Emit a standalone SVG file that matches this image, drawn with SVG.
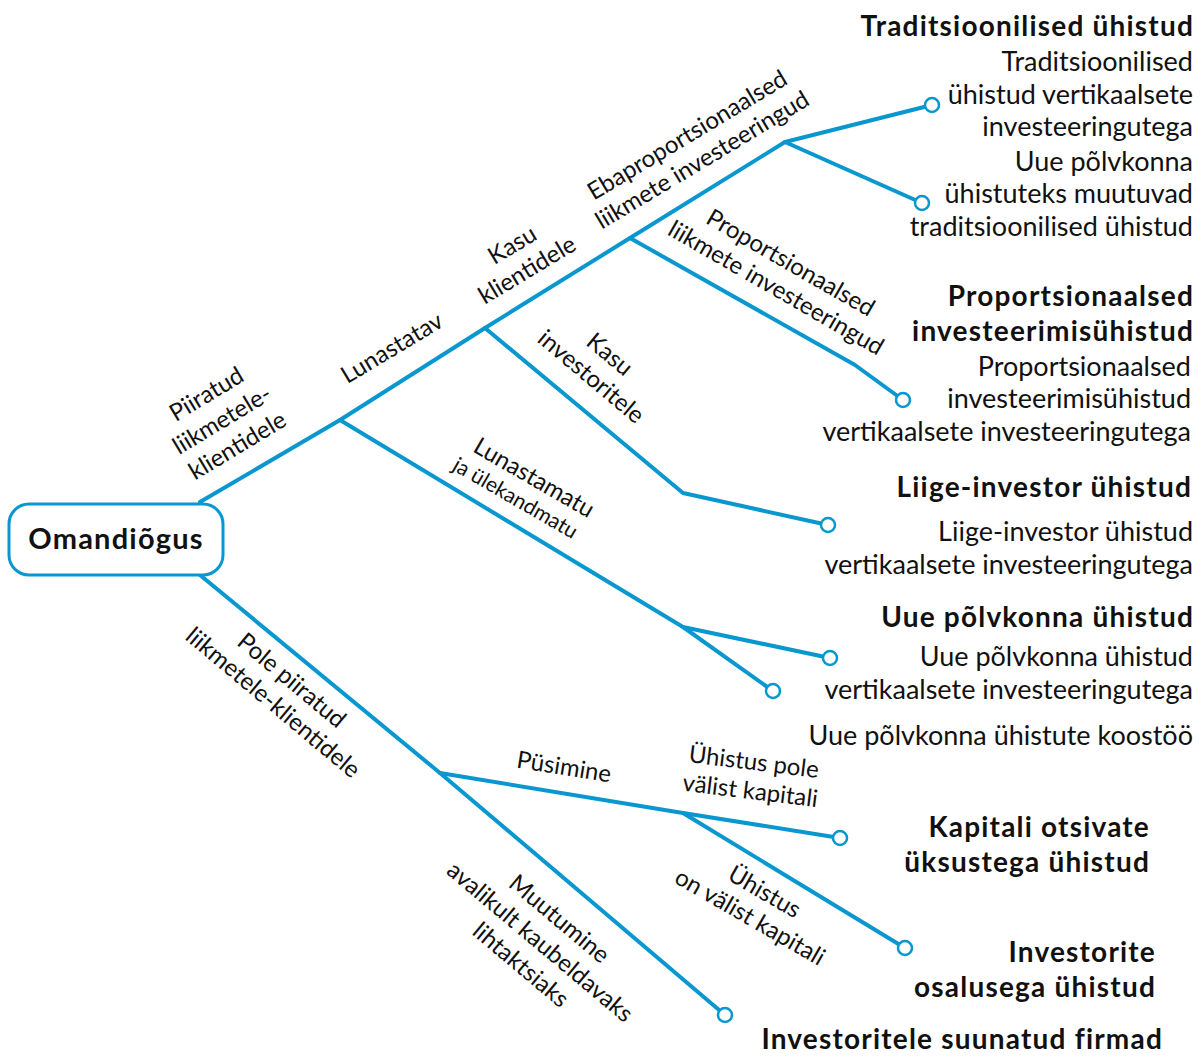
<svg xmlns="http://www.w3.org/2000/svg" width="1200" height="1057" viewBox="0 0 1200 1057">
<style>
.ln{fill:none;stroke:#0897CE;stroke-width:4;stroke-linejoin:round;stroke-linecap:round}
.end{fill:#fff;stroke:#0897CE;stroke-width:2.5}
.lb{font-family:Lato,"Liberation Sans",sans-serif;font-size:24px;fill:#111;text-anchor:middle}
.sm{font-size:21px}
.h{font-family:Lato,"Liberation Sans",sans-serif;font-size:28px;font-weight:bold;letter-spacing:1.2px;fill:#111;text-anchor:end}
.t{font-family:Lato,"Liberation Sans",sans-serif;font-size:27px;fill:#111;text-anchor:end}
</style>
<rect width="1200" height="1057" fill="#fff"/>
<g id="connectors">
<polyline class="ln" points="200,502 340,420 485,328 630,238 785,142 932,105"/>
<polyline class="ln" points="785,142 922,203"/>
<polyline class="ln" points="630,238 855,365 903,400"/>
<polyline class="ln" points="485,328 683,493 828,525"/>
<polyline class="ln" points="340,420 683,627 830,658"/>
<polyline class="ln" points="683,627 773,691"/>
<polyline class="ln" points="200,575 440,773 725,1015"/>
<polyline class="ln" points="440,773 683,813 840,838"/>
<polyline class="ln" points="683,813 905,948"/>
<circle class="end" cx="932" cy="105" r="7"/>
<circle class="end" cx="922" cy="203" r="7"/>
<circle class="end" cx="903" cy="400" r="7"/>
<circle class="end" cx="828" cy="525" r="7"/>
<circle class="end" cx="830" cy="658" r="7"/>
<circle class="end" cx="773" cy="691" r="7"/>
<circle class="end" cx="840" cy="838" r="7"/>
<circle class="end" cx="905" cy="948" r="7"/>
<circle class="end" cx="725" cy="1015" r="7"/>
</g>
<g id="edge-labels">
<text class="lb" transform="translate(222,420) rotate(-31)"><tspan x="0" y="-22">Piiratud</tspan><tspan x="0" y="8">liikmetele-</tspan><tspan x="0" y="38">klientidele</tspan></text>
<text class="lb" transform="translate(392,348) rotate(-31)"><tspan x="0" y="8">Lunastatav</tspan></text>
<text class="lb" transform="translate(520,258) rotate(-31)"><tspan x="0" y="-7">Kasu</tspan><tspan x="0" y="22">klientidele</tspan></text>
<text class="lb" transform="translate(695,148) rotate(-31)"><tspan x="0" y="-7">Ebaproportsionaalsed</tspan><tspan x="0" y="22">liikmete investeeringud</tspan></text>
<text class="lb" transform="translate(783,276) rotate(30)"><tspan x="0" y="-7">Proportsionaalsed</tspan><tspan x="0" y="22">liikmete investeeringud</tspan></text>
<text class="lb" transform="translate(600,366) rotate(40)"><tspan x="0" y="-7">Kasu</tspan><tspan x="0" y="22">investoritele</tspan></text>
<text class="lb" transform="translate(527,490) rotate(30)"><tspan x="0" y="-6">Lunastamatu</tspan><tspan class="sm" x="-6" y="20">ja ülekandmatu</tspan></text>
<text class="lb" transform="translate(282,692) rotate(40)"><tspan x="0" y="-7">Pole piiratud</tspan><tspan x="0" y="22">liikmetele-klientidele</tspan></text>
<text class="lb" transform="translate(564,767) rotate(9)"><tspan x="0" y="8">Püsimine</tspan></text>
<text class="lb" transform="translate(752,777) rotate(7)"><tspan x="0" y="-7">Ühistus pole</tspan><tspan x="0" y="22">välist kapitali</tspan></text>
<text class="lb" transform="translate(757,905) rotate(30)"><tspan x="0" y="-7">Ühistus</tspan><tspan x="0" y="22">on välist kapitali</tspan></text>
<text class="lb" transform="translate(540,942) rotate(40)"><tspan x="0" y="-22">Muutumine</tspan><tspan x="0" y="8">avalikult kaubeldavaks</tspan><tspan x="0" y="38">lihtaktsiaks</tspan></text>
</g>
<g id="root">
<rect x="9" y="504" width="214" height="71" rx="20" fill="#fff" stroke="#0897CE" stroke-width="3"/>
<text x="116" y="549" font-family="Lato,'Liberation Sans',sans-serif" font-size="29" font-weight="bold" letter-spacing="1.2" fill="#111" text-anchor="middle">Omandiõgus</text>
</g>
<g id="traditsioonilised">
<text class="h" x="1194" y="36">Traditsioonilised ühistud</text>
<text class="t" x="1193" y="71">Traditsioonilised</text>
<text class="t" x="1193" y="104">ühistud vertikaalsete</text>
<text class="t" x="1193" y="136">investeeringutega</text>
<text class="t" x="1193" y="171">Uue põlvkonna</text>
<text class="t" x="1193" y="203">ühistuteks muutuvad</text>
<text class="t" x="1193" y="236">traditsioonilised ühistud</text>
</g>
<g id="proportsionaalsed">
<text class="h" x="1194" y="306">Proportsionaalsed</text>
<text class="h" x="1194" y="341">investeerimisühistud</text>
<text class="t" x="1191" y="376">Proportsionaalsed</text>
<text class="t" x="1191" y="408">investeerimisühistud</text>
<text class="t" x="1191" y="441">vertikaalsete investeeringutega</text>
</g>
<g id="liige-investor">
<text class="h" x="1192" y="497">Liige-investor ühistud</text>
<text class="t" x="1193" y="541">Liige-investor ühistud</text>
<text class="t" x="1193" y="574">vertikaalsete investeeringutega</text>
</g>
<g id="uue-polvkonna">
<text class="h" x="1194" y="627">Uue põlvkonna ühistud</text>
<text class="t" x="1193" y="666">Uue põlvkonna ühistud</text>
<text class="t" x="1193" y="699">vertikaalsete investeeringutega</text>
<text class="t" x="1193" y="745">Uue põlvkonna ühistute koostöö</text>
</g>
<g id="kapitali">
<text class="h" x="1150" y="837">Kapitali otsivate</text>
<text class="h" x="1150" y="872">üksustega ühistud</text>
</g>
<g id="investorite">
<text class="h" x="1156" y="962">Investorite</text>
<text class="h" x="1156" y="997">osalusega ühistud</text>
</g>
<g id="investoritele">
<text class="h" x="1163" y="1049" font-size="27">Investoritele suunatud firmad</text>
</g>
</svg>
